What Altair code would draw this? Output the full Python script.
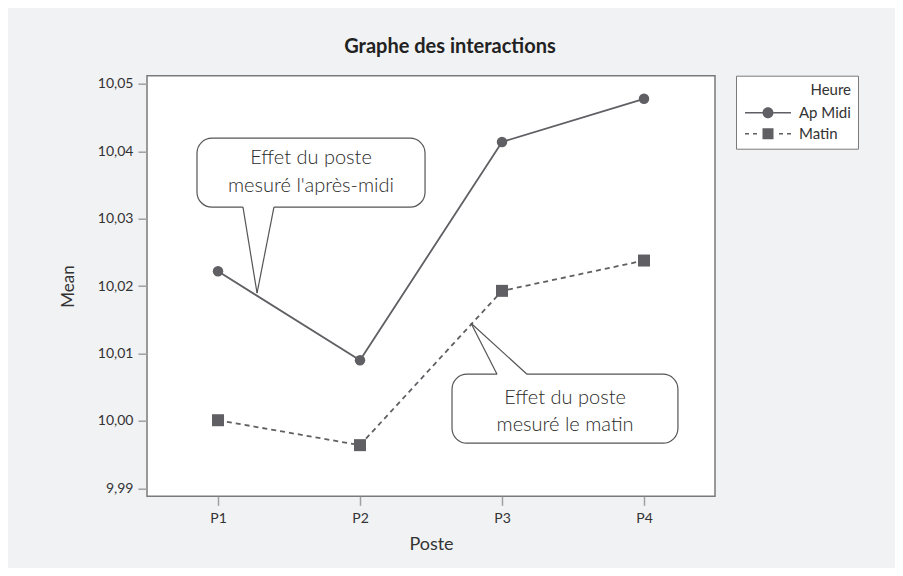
import altair as alt
import pandas as pd

# ---------------- data ----------------
postes = ["P1", "P2", "P3", "P4"]
heures = ["Ap Midi", "Matin"]
ap_midi = [10.0222, 10.0090, 10.0414, 10.0478]
matin = [10.0001, 9.9964, 10.0193, 10.0238]
y_ticks = [9.99, 10.00, 10.01, 10.02, 10.03, 10.04, 10.05]

# callouts (anchored in data units: x = poste index 1..4, y = Mean)
callout_line1 = ["Effet du poste", "Effet du poste"]
callout_line2 = ["mesuré l'après-midi", "mesuré le matin"]
box_x1 = [0.852, 2.648]
box_x2 = [2.458, 4.239]
box_y1 = [10.04196, 10.00693]
box_y2 = [10.03172, 9.99669]
tip_x = [1.275, 2.782]
tip_y = [10.01895, 10.0145]
base_xa = [1.176, 2.965]
base_xb = [1.394, 3.176]
base_y = [10.03172, 10.00693]
text_x = [1.655, 3.444]
text_y1 = [10.03899, 10.00337]
text_y2 = [10.03484, 9.99936]

# ---------------- tables ----------------
rows = []
for h, vals in zip(heures, [ap_midi, matin]):
    for i, v in enumerate(vals):
        rows.append({"pos": i + 1, "mean": v, "Heure": h})
df = pd.DataFrame(rows)

boxes = pd.DataFrame({"pos": box_x1, "pos2": box_x2, "mean": box_y1, "mean2": box_y2})
sides = pd.DataFrame({
    "pos": base_xa + base_xb,
    "mean": base_y + base_y,
    "pos2": tip_x + tip_x,
    "mean2": tip_y + tip_y,
})
covers = pd.DataFrame({"pos": base_xa, "pos2": base_xb, "mean": base_y, "mean2": base_y})
texts = pd.DataFrame({
    "pos": text_x + text_x,
    "mean": text_y1 + text_y2,
    "label": callout_line1 + callout_line2,
})

FONT = "Lato"
GREY = "#5f5f64"
TXT = "#333333"

label_expr_x = "[" + ",".join("'%s'" % p for p in postes) + "][datum.value - 1]"

X = alt.X(
    "pos:Q",
    scale=alt.Scale(domain=[0.5, 4.5], nice=False, zero=False),
    axis=alt.Axis(
        values=[1, 2, 3, 4], labelExpr=label_expr_x, title="Poste",
        domain=False, grid=False, tickSize=9, tickColor="#a0a0a0", tickWidth=1.5,
        labelFontSize=14, labelPadding=6, labelColor=TXT, labelFont=FONT,
        titleFontSize=18, titleFontWeight="normal", titleColor=TXT, titleFont=FONT,
        titlePadding=10,
    ),
)
Y = alt.Y(
    "mean:Q",
    scale=alt.Scale(domain=[9.98881, 10.05123], nice=False, zero=False),
    axis=alt.Axis(
        values=y_ticks, labelExpr="replace(format(datum.value, '.2f'), '.', ',')",
        title="Mean", domain=False, grid=False, tickSize=9, tickColor="#a0a0a0",
        tickWidth=1.5, labelFontSize=14, labelPadding=5, labelColor=TXT, labelFont=FONT,
        titleFontSize=17, titleFontWeight="normal", titleColor=TXT, titleFont=FONT,
        titlePadding=20,
    ),
)

line_ap = alt.Chart(df).transform_filter(alt.datum.Heure == heures[0]).mark_line(
    color=GREY, strokeWidth=1.8).encode(x=X, y=Y)
line_ma = alt.Chart(df).transform_filter(alt.datum.Heure == heures[1]).mark_line(
    color=GREY, strokeWidth=1.8, strokeDash=[5, 4]).encode(x=X, y=Y)
circles = alt.Chart(df).transform_filter(alt.datum.Heure == heures[0]).mark_circle(
    color=GREY, size=110, opacity=1).encode(x=X, y=Y)
squares = alt.Chart(df).transform_filter(alt.datum.Heure == heures[1]).mark_square(
    color=GREY, size=144, opacity=1).encode(x=X, y=Y)

path_ap = ("M-2.3,-0.08H-0.55V0.08H-2.3Z M0.55,-0.08H2.3V0.08H0.55Z "
           "M0.55,0A0.55,0.55,0,1,1,-0.55,0A0.55,0.55,0,1,1,0.55,0Z")
path_ma = ("M-2.3,-0.08H-1.9V0.08H-2.3Z M-1.5,-0.08H-1.1V0.08H-1.5Z "
           "M-0.55,-0.55H0.55V0.55H-0.55Z "
           "M1.1,-0.08H1.5V0.08H1.1Z M1.9,-0.08H2.3V0.08H1.9Z")

legend_layer = alt.Chart(df).transform_filter("false").mark_point(
    filled=True, color=GREY, opacity=1).encode(
    x=X, y=Y,
    shape=alt.Shape(
        "Heure:N",
        scale=alt.Scale(domain=heures, range=[path_ap, path_ma]),
        legend=alt.Legend(
            orient="right", offset=20.7, title="Heure",
            titleAnchor="end", titleFontSize=15, titleFontWeight="normal",
            titleColor=TXT, titleFont=FONT, labelFontSize=15, labelColor=TXT,
            labelFont=FONT, symbolSize=400, symbolFillColor=GREY,
            symbolStrokeWidth=0, symbolOpacity=1, symbolOffset=15, labelOffset=21,
            padding=7, strokeColor="#7a7a7a", fillColor="white", rowPadding=3,
            titlePadding=5,
        ),
    ),
)

box_layer = alt.Chart(boxes).mark_rect(
    fill="white", stroke="#555555", strokeWidth=1.2, cornerRadius=15).encode(
    x=X, x2="pos2:Q", y=Y, y2="mean2:Q")
cover_layer = alt.Chart(covers).mark_rule(color="white", strokeWidth=3).encode(
    x=X, x2="pos2:Q", y=Y, y2="mean2:Q")
side_layer = alt.Chart(sides).mark_rule(color="#555555", strokeWidth=1.2).encode(
    x=X, x2="pos2:Q", y=Y, y2="mean2:Q")
text_layer = alt.Chart(texts).mark_text(
    font=FONT, fontSize=20, fontWeight=300, color="#2a2a2a", align="center",
    baseline="middle").encode(x=X, y=Y, text="label:N")

chart = alt.layer(
    line_ap, line_ma, circles, squares, legend_layer, box_layer, cover_layer,
    side_layer, text_layer
).properties(
    width=568, height=420.6,
    padding={"left": 139, "top": 67.7, "right": 180, "bottom": 71.7},
    autosize=alt.AutoSizeParams(type="none"),
    title=alt.TitleParams(
        "Graphe des interactions", fontSize=20, fontWeight="bold", font=FONT,
        color="#222222", anchor="middle", frame="group", offset=24, dx=19, dy=22,
        baseline="alphabetic",
    ),
).configure(background="#f1f2f4").configure_view(
    stroke="#7a7a7a", strokeWidth=1.5, fill="white"
)

chart.save("out.html", embed_options={"renderer": "svg", "actions": False})
